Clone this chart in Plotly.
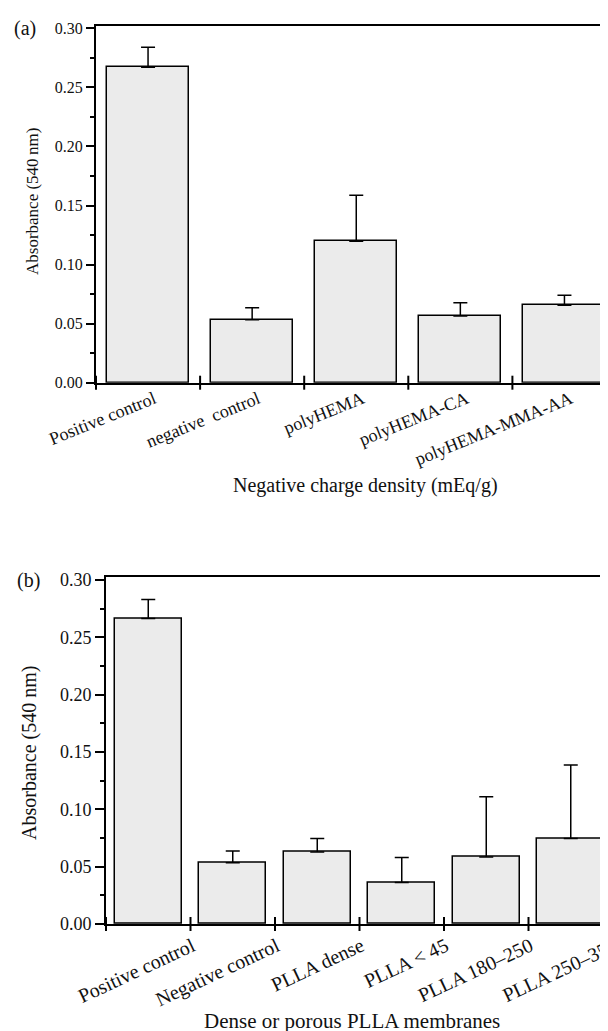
import plotly.graph_objects as go

# ---------------- data ----------------
cats_a = ["Positive control", "negative\u00a0 control", "polyHEMA", "polyHEMA-CA", "polyHEMA-MMA-AA"]
vals_a = [0.267, 0.0533, 0.1197, 0.0565, 0.0655]
errs_a = [0.017, 0.0102, 0.039, 0.0112, 0.0085]

cats_b = ["Positive control", "Negative control", "PLLA dense", "PLLA &lt; 45", "PLLA 180\u2013250", "PLLA 250\u2013350"]
vals_b = [0.2666, 0.0535, 0.0628, 0.0363, 0.0584, 0.0747]
errs_b = [0.0166, 0.0102, 0.0119, 0.0218, 0.0526, 0.064]

yticks = [0.0, 0.05, 0.10, 0.15, 0.20, 0.25, 0.30]

# page is 608x1031; the default body margin offsets the figure by 8px
OFF = 8
W, H = 608 - OFF, 1031 - OFF
FONT = "Liberation Serif, Times New Roman, serif"
FILL = "#ebebeb"

def px_(x):
    return (x - OFF) / W

def py(y):
    return 1 - (y - OFF) / H

fig = go.Figure()

def add_panel(cats, vals, errs, xa, ya):
    n = len(cats)
    xs = list(range(n))
    fig.add_trace(go.Bar(
        x=xs, y=vals, width=0.79, xaxis=xa, yaxis=ya,
        marker=dict(color=FILL, line=dict(color="black", width=1.5)),
        error_y=dict(type="data", array=errs, arrayminus=[0] * n, symmetric=False,
                     color="black", thickness=1.5, width=7),
        showlegend=False, hoverinfo="skip"))
    bnd = [i - 0.5 for i in range(n)]
    fig.add_trace(go.Scatter(
        x=bnd, y=[0] * len(bnd), mode="markers", xaxis=xa, yaxis=ya, cliponaxis=False,
        marker=dict(symbol="line-ns", size=10, color="black", line=dict(width=2, color="black")),
        showlegend=False, hoverinfo="skip"))

add_panel(cats_a, vals_a, errs_a, "x", "y")
add_panel(cats_b, vals_b, errs_b, "x2", "y2")

common_x = dict(showline=True, linewidth=2, linecolor="black", mirror=True, ticks="",
                showgrid=False, zeroline=False, automargin=False, ticklabeloverflow="allow")
common_y = dict(showline=True, linewidth=2, linecolor="black", mirror=False,
                ticks="outside", tickwidth=2, tickcolor="black", automargin=False,
                tickvals=yticks, tickformat=".2f", showgrid=False, zeroline=False,
                minor=dict(ticks="outside", ticklen=4, tickwidth=1.5, tickcolor="black",
                           dtick=0.025, tick0=0, showgrid=False))

fig.update_layout(
    width=W, height=H, margin=dict(l=0, r=0, t=0, b=0, autoexpand=False),
    paper_bgcolor="white", plot_bgcolor="white",
    font=dict(family=FONT, color="#111"),
    bargap=0,
    xaxis=dict(common_x, domain=[px_(96), 1], range=[-0.5, -0.5 + 512 / 104.1],
               tickvals=list(range(len(cats_a))), ticktext=cats_a, tickangle=-22,
               tickfont=dict(size=18, family=FONT, color="#111"),
               ticklabelshift=6, ticklabelstandoff=-3, anchor="y"),
    yaxis=dict(common_y, domain=[py(382.7), py(26)], range=[0, 0.302], ticklen=8,
               tickfont=dict(size=16, family=FONT, color="#111"), anchor="x"),
    xaxis2=dict(common_x, domain=[px_(106), 1], range=[-0.5, -0.5 + 502 / 84.5],
                tickvals=list(range(len(cats_b))), ticktext=cats_b, tickangle=-25,
                tickfont=dict(size=20, family=FONT, color="#111"),
                ticklabelshift=44, ticklabelstandoff=1, anchor="y2"),
    yaxis2=dict(common_y, domain=[py(924), py(576.7)], range=[0, 0.303], ticklen=9,
                tickfont=dict(size=18, family=FONT, color="#111"), anchor="x2"),
    annotations=[
        dict(text="(a)", x=px_(12), y=py(29), xref="paper", yref="paper",
             xanchor="left", yanchor="middle", showarrow=False,
             font=dict(size=20, family=FONT, color="#111")),
        dict(text="(b)", x=px_(15), y=py(580), xref="paper", yref="paper",
             xanchor="left", yanchor="middle", showarrow=False,
             font=dict(size=20, family=FONT, color="#111")),
        dict(text="Absorbance (540\u2009nm)", x=px_(32), y=py(202), xref="paper", yref="paper",
             xanchor="center", yanchor="middle", textangle=-90, showarrow=False,
             font=dict(size=17, family=FONT, color="#111")),
        dict(text="Absorbance (540 nm)", x=px_(29), y=py(753), xref="paper", yref="paper",
             xanchor="center", yanchor="middle", textangle=-90, showarrow=False,
             font=dict(size=20, family=FONT, color="#111")),
        dict(text="Negative charge density (mEq/g)", x=px_(365), y=py(485), xref="paper", yref="paper",
             xanchor="center", yanchor="middle", showarrow=False,
             font=dict(size=20, family=FONT, color="#111")),
        dict(text="Dense or porous PLLA membranes", x=px_(352), y=py(1021), xref="paper", yref="paper",
             xanchor="center", yanchor="middle", showarrow=False,
             font=dict(size=21, family=FONT, color="#111")),
    ],
)

fig.write_html("out.html")
